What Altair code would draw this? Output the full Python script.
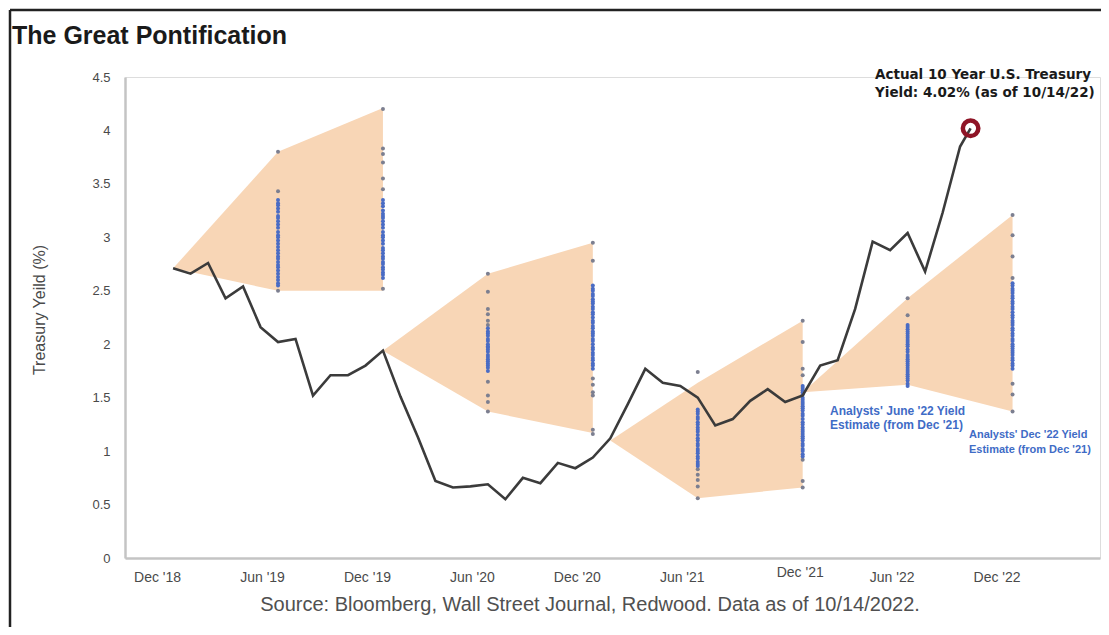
import json
import altair as alt
import pandas as pd

# ---------------- data ----------------
title_text = "The Great Pontification"
source_text = "Source: Bloomberg, Wall Street Journal, Redwood. Data as of 10/14/2022."
y_title = "Treasury Yeild (%)"
actual_note = ["Actual 10 Year U.S. Treasury", "Yield: 4.02% (as of 10/14/22)"]
june_note = ["Analysts' June '22 Yield", "Estimate (from Dec '21)"]
dec_note = ["Analysts' Dec '22 Yield", "Estimate (from Dec '21)"]

x_tick_months = [0, 6, 12, 18, 24, 30, 36, 42, 48]
x_tick_labels = ["Dec '18", "Jun '19", "Dec '19", "Jun '20", "Dec '20",
                 "Jun '21", "Dec '21", "Jun '22", "Dec '22"]

# month index: 0 = Dec 2018
line_months = list(range(46)) + [45.6]
line_values = [2.71, 2.66, 2.76, 2.43, 2.54, 2.16, 2.02, 2.05, 1.52, 1.71,
               1.71, 1.80, 1.94, 1.51, 1.13, 0.72, 0.66, 0.67, 0.69, 0.55,
               0.75, 0.70, 0.89, 0.84, 0.94, 1.12, 1.44, 1.77, 1.64, 1.61,
               1.50, 1.24, 1.30, 1.47, 1.58, 1.46, 1.52, 1.80, 1.85, 2.33,
               2.96, 2.88, 3.04, 2.68, 3.23, 3.85, 4.02]

actual_month = [45.6]
actual_value = [4.02]

# forecast fans (start, mid, end)
fan_months = [[0, 6, 12], [12, 18, 24], [25, 30, 36], [36, 42, 48]]
fan_upper = [[2.71, 3.80, 4.21], [1.94, 2.66, 2.95], [1.10, 1.64, 2.22], [1.55, 2.43, 3.21]]
fan_lower = [[2.71, 2.50, 2.50], [1.94, 1.37, 1.17], [1.10, 0.56, 0.66], [1.55, 1.62, 1.37]]

# analysts' estimates per column
dot_months = [6, 12, 18, 24, 30, 36, 42, 48]
dot_core = [
    [3.35, 3.32, 3.30, 3.27, 3.24, 3.20, 3.18, 3.15, 3.12, 3.09, 3.05, 3.02,
     3.00, 2.97, 2.94, 2.91, 2.88, 2.85, 2.82, 2.80, 2.77, 2.74, 2.72, 2.69,
     2.66, 2.63, 2.60, 2.57, 2.55],
    [3.35, 3.32, 3.29, 3.25, 3.22, 3.20, 3.18, 3.15, 3.12, 3.09, 3.05, 3.02,
     3.00, 2.97, 2.94, 2.90, 2.88, 2.85, 2.82, 2.80, 2.77, 2.75, 2.72, 2.70,
     2.67, 2.65, 2.62],
    [2.15, 2.12, 2.10, 2.08, 2.05, 2.03, 2.00, 1.98, 1.97, 1.95, 1.93, 1.90,
     1.88, 1.86, 1.84, 1.82, 1.80, 1.78, 1.75],
    [2.55, 2.52, 2.50, 2.47, 2.45, 2.42, 2.40, 2.38, 2.35, 2.33, 2.30, 2.28,
     2.25, 2.22, 2.20, 2.17, 2.15, 2.12, 2.10, 2.08, 2.05, 2.03, 2.00, 1.97,
     1.95, 1.92, 1.90, 1.87, 1.85, 1.82, 1.80, 1.77],
    [1.39, 1.37, 1.35, 1.32, 1.30, 1.27, 1.25, 1.22, 1.20, 1.18, 1.15, 1.12,
     1.10, 1.07, 1.05, 1.02, 1.00, 0.98, 0.95, 0.93, 0.90, 0.88, 0.86],
    [1.61, 1.59, 1.57, 1.55, 1.53, 1.50, 1.48, 1.46, 1.44, 1.42, 1.40, 1.38,
     1.35, 1.33, 1.30, 1.27, 1.25, 1.22, 1.20, 1.18, 1.16, 1.14, 1.12, 1.10,
     1.07, 1.05, 1.02, 1.00, 0.97, 0.95],
    [2.18, 2.16, 2.14, 2.12, 2.10, 2.08, 2.06, 2.04, 2.02, 2.00, 1.98, 1.95,
     1.93, 1.90, 1.88, 1.86, 1.84, 1.82, 1.80, 1.78, 1.76, 1.74, 1.72, 1.70,
     1.68, 1.66, 1.63, 1.61],
    [2.57, 2.55, 2.52, 2.50, 2.48, 2.45, 2.43, 2.40, 2.38, 2.35, 2.33, 2.30,
     2.27, 2.25, 2.22, 2.20, 2.18, 2.15, 2.13, 2.10, 2.08, 2.05, 2.03, 2.00,
     1.98, 1.96, 1.94, 1.92, 1.90, 1.87, 1.85, 1.82, 1.80, 1.77],
]
dot_outer = [
    [3.80, 3.43, 2.50],
    [4.20, 3.83, 3.78, 3.70, 3.55, 3.45, 2.52],
    [2.66, 2.49, 2.33, 2.28, 2.22, 2.18, 1.65, 1.52, 1.46, 1.37],
    [2.95, 2.78, 1.68, 1.62, 1.55, 1.52, 1.20, 1.16],
    [1.74, 0.83, 0.78, 0.73, 0.67, 0.56],
    [2.22, 2.02, 1.77, 1.71, 0.92, 0.72, 0.66],
    [2.43, 2.27],
    [3.21, 3.02, 2.82, 2.62, 1.63, 1.53, 1.37],
]

# ---------------- tables ----------------
line_df = pd.DataFrame({"month": line_months, "yield": line_values})
actual_df = pd.DataFrame({"month": actual_month, "yield": actual_value})

fan_rows = []
for i, (ms, us, ls) in enumerate(zip(fan_months, fan_upper, fan_lower)):
    for m, u, l in zip(ms, us, ls):
        fan_rows.append({"fan": i, "month": m, "upper": u, "lower": l})
fan_df = pd.DataFrame(fan_rows)

dot_rows = []
for m, core, outer in zip(dot_months, dot_core, dot_outer):
    for v in outer:
        dot_rows.append({"month": m, "yield": v, "kind": "outer"})
    for v in core:
        dot_rows.append({"month": m, "yield": v, "kind": "core"})
dot_df = pd.DataFrame(dot_rows)

dummy = pd.DataFrame({"a": [0]})

# ---------------- encodings ----------------
FONT = "Liberation Sans"
label_expr = json.dumps(x_tick_labels) + "[round(datum.value / 6)]"

x_scale = alt.Scale(domain=[-2.75, 53], nice=False, zero=False)
y_scale = alt.Scale(domain=[0, 4.5], nice=False)

x_axis = alt.Axis(values=x_tick_months, labelExpr=label_expr, title=None,
                  grid=False, ticks=False, domainColor="#C4C4C4", domainWidth=2.5,
                  labelFont=FONT, labelFontSize=14, labelColor="#4a4a4a",
                  labelPadding={"condition": {"test": "datum.value == 36", "value": 7},
                                "value": 12},
                  labelOffset={"condition": {"test": "datum.value == 36", "value": -3},
                               "value": -16},
                  labelFlush=False)
y_axis = alt.Axis(values=[0, 0.5, 1, 1.5, 2, 2.5, 3, 3.5, 4, 4.5], format="~g",
                  title=None, grid=False, ticks=False, domainColor="#C4C4C4",
                  domainWidth=2.5, labelFont=FONT, labelFontSize=13,
                  labelColor="#4a4a4a", labelPadding=15)


def xe(field="month"):
    return alt.X(f"{field}:Q", scale=x_scale, axis=x_axis)


def ye(field):
    return alt.Y(f"{field}:Q", scale=y_scale, axis=y_axis)


areas = alt.Chart(fan_df).mark_area(color="#F8D6B6", opacity=1).encode(
    x=xe(), y=ye("upper"), y2="lower:Q", detail="fan:N")

dots = alt.Chart(dot_df).mark_circle(size=16, opacity=1).encode(
    x=xe(), y=ye("yield"),
    color=alt.Color("kind:N", scale=alt.Scale(domain=["core", "outer"],
                                              range=["#4A6CC4", "#7C7F90"]),
                    legend=None))

line = alt.Chart(line_df).mark_line(color="#3b3b3b", strokeWidth=2.6).encode(
    x=xe(), y=ye("yield"))

ring = alt.Chart(actual_df).mark_point(shape="circle", filled=False, size=240,
                                       strokeWidth=4.5, color="#8E1426",
                                       opacity=1).encode(
    x=xe(), y=ye("yield"))


def txt(text, x, y, **kw):
    return alt.Chart(dummy).mark_text(**kw).encode(
        x=alt.value(x), y=alt.value(y), text=alt.value(text))


title = txt(title_text, -113, -33, align="left", baseline="alphabetic",
            font=FONT, fontSize=25, fontWeight="bold", color="#1a1a1a")
ytitle = txt(y_title, -85, 233, align="center", baseline="middle", angle=270,
             font=FONT, fontSize=16, color="#4a4a4a")
source = txt(source_text, 465, 528, align="center", baseline="middle",
             font=FONT, fontSize=20, color="#505050")
note_actual = txt(actual_note, 750, -2, align="left", baseline="middle",
                  font="DejaVu Sans", fontSize=13.5, fontWeight="bold",
                  color="#1a1a1a", lineHeight=18)
note_june = txt(june_note, 705, 334, align="left", baseline="middle",
                font=FONT, fontSize=12, fontWeight="bold", color="#3F6CC6",
                lineHeight=14)
note_dec = txt(dec_note, 844, 358, align="left", baseline="middle",
               font=FONT, fontSize=11, fontWeight="bold", color="#3F6CC6",
               lineHeight=15)

border_top = alt.Chart(dummy).mark_rule(color="#222222", strokeWidth=2.5).encode(
    x=alt.value(-115), x2=alt.value(990), y=alt.value(-67))
border_left = alt.Chart(dummy).mark_rule(color="#222222", strokeWidth=2.5).encode(
    x=alt.value(-115), y=alt.value(-67), y2=alt.value(560))

chart = alt.layer(
    areas, dots, line, ring, title, ytitle, source, note_actual, note_june,
    note_dec, border_top, border_left
).properties(
    width=975, height=481,
    autosize=alt.AutoSizeParams(type="none"),
    padding={"left": 117, "top": 69, "right": 1, "bottom": 69},
).configure_view(stroke=None).configure(background="white")

chart.save("out.html", embed_options={"renderer": "svg", "actions": False})
